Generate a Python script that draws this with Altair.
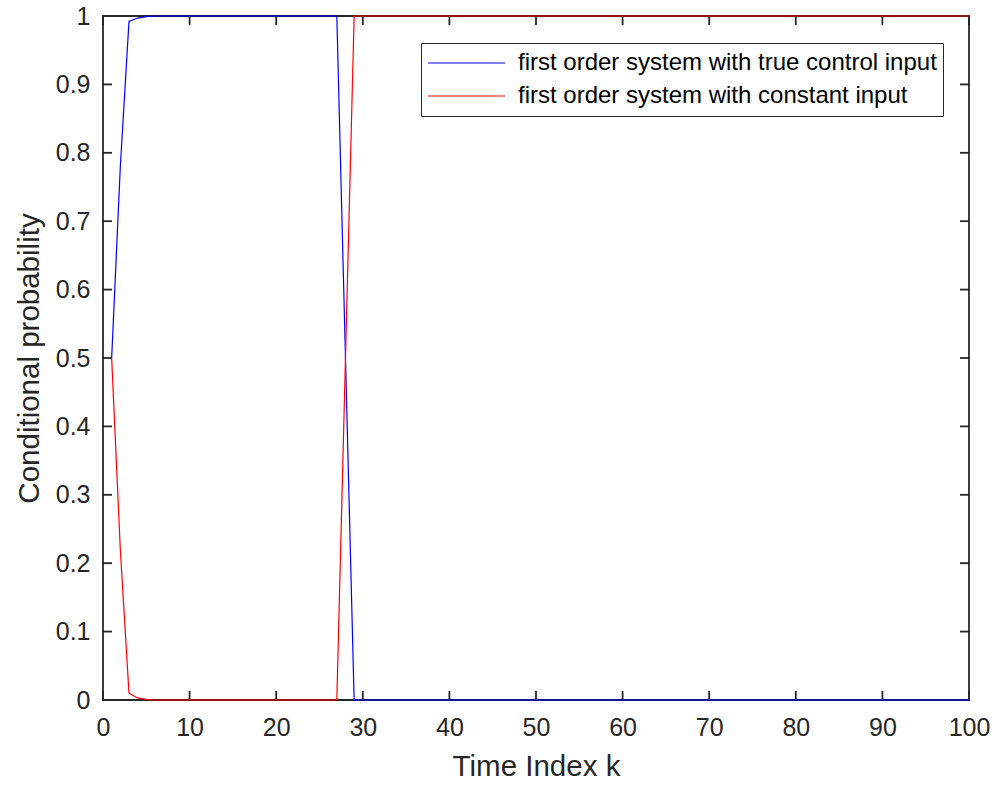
import altair as alt
import pandas as pd

# ---- data ----
k_values = list(range(1, 101))
true_input = [0.5, 0.78, 0.992, 0.997, 0.999, 1.0] + [1.0] * 21 + [0.5] + [0.0] * 72
const_input = [0.5, 0.22, 0.01, 0.003, 0.001, 0.0] + [0.0] * 21 + [0.5] + [1.0] * 72
series_names = [
    "first order system with true control input",
    "first order system with constant input",
]
series_colors = ["#0000FF", "#FF0000"]
x_ticks = [0, 10, 20, 30, 40, 50, 60, 70, 80, 90, 100]
y_ticks = [0, 0.1, 0.2, 0.3, 0.4, 0.5, 0.6, 0.7, 0.8, 0.9, 1]

W, H = 866, 684
FONT = "Liberation Sans"
AX = "#262626"

df = pd.concat([
    pd.DataFrame({"k": k_values, "p": true_input, "series": series_names[0]}),
    pd.DataFrame({"k": k_values, "p": const_input, "series": series_names[1]}),
])
dx = pd.DataFrame({"t": x_ticks})
dy = pd.DataFrame({"t": y_ticks})

xscale = alt.Scale(domain=[0, 100], nice=False)
yscale = alt.Scale(domain=[0, 1], nice=False)

lines = alt.Chart(df).mark_line(strokeWidth=1.2).encode(
    x=alt.X("k:Q", scale=xscale, title="Time Index k",
            axis=alt.Axis(values=x_ticks, ticks=False, domain=False, grid=False,
                          labelFlush=False, labelOverlap=False,
                          labelFontSize=25, labelPadding=15, titleFontSize=29.5,
                          titlePadding=12, labelFont=FONT, titleFont=FONT,
                          labelColor=AX, titleColor=AX, titleFontWeight="normal")),
    y=alt.Y("p:Q", scale=yscale, title="Conditional probability",
            axis=alt.Axis(values=y_ticks, format="~g", ticks=False, domain=False,
                          grid=False, labelFlush=False, labelOverlap=False,
                          labelFontSize=25, labelPadding=13,
                          titleFontSize=29.5, titlePadding=11, labelFont=FONT,
                          titleFont=FONT, labelColor=AX, titleColor=AX,
                          titleFontWeight="normal")),
    color=alt.Color("series:N", sort=series_names,
                    scale=alt.Scale(domain=series_names, range=series_colors),
                    legend=alt.Legend(title=None, orient="none", legendX=318,
                                      legendY=27, strokeColor=AX, fillColor="white",
                                      padding=6, symbolType="stroke",
                                      symbolSize=5929, symbolStrokeWidth=1.2,
                                      labelFontSize=24, labelFont=FONT,
                                      labelColor="black", labelOffset=12,
                                      clipHeight=28, rowPadding=5,
                                      labelLimit=800)),
)

tick_style = dict(color=AX, strokeWidth=1.8)
bx = alt.Chart(dx).mark_rule(**tick_style).encode(
    x=alt.X("t:Q", scale=xscale), y=alt.value(H), y2=alt.value(H - 9))
tx = alt.Chart(dx).mark_rule(**tick_style).encode(
    x=alt.X("t:Q", scale=xscale), y=alt.value(0), y2=alt.value(9))
ly = alt.Chart(dy).mark_rule(**tick_style).encode(
    y=alt.Y("t:Q", scale=yscale), x=alt.value(0), x2=alt.value(9))
ry = alt.Chart(dy).mark_rule(**tick_style).encode(
    y=alt.Y("t:Q", scale=yscale), x=alt.value(W), x2=alt.value(W - 9))

chart = alt.layer(bx, tx, ly, ry, lines).properties(
    width=W, height=H,
    autosize=alt.AutoSizeParams(type="none"),
    padding={"left": 103, "top": 16, "right": 28, "bottom": 86},
    background="white",
).configure_view(stroke=AX, strokeWidth=1.8)

chart.save("out.html", embed_options={"renderer": "svg", "actions": False})
